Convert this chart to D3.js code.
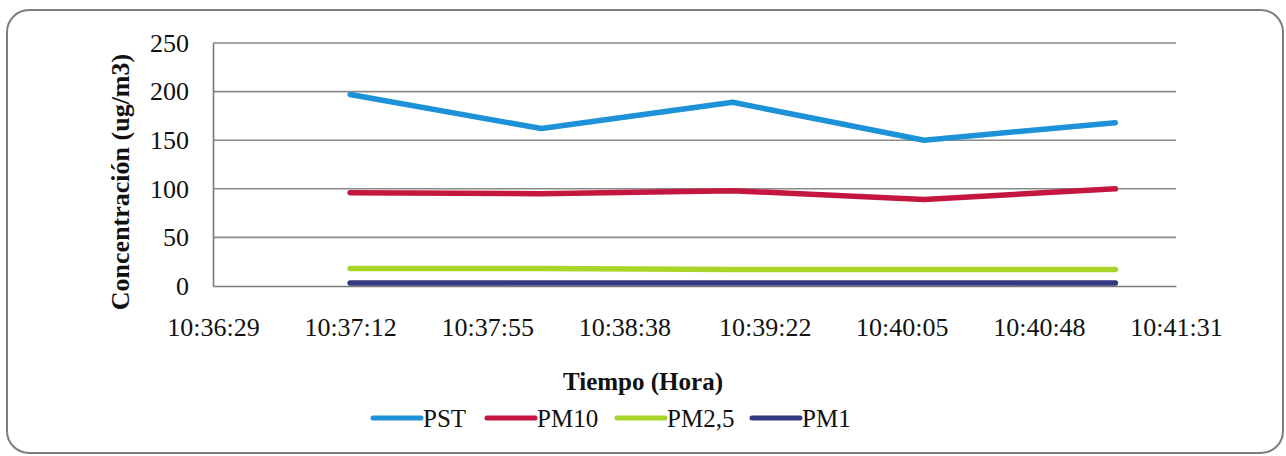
<!DOCTYPE html>
<html>
<head>
<meta charset="utf-8">
<script src="https://cdn.jsdelivr.net/npm/d3@7"></script>
<style>
  html, body { margin: 0; padding: 0; background: #fff; }
  svg { display: block; }
  text { font-family: "Liberation Serif", "Tinos", "Times New Roman", "Noto Serif", "DejaVu Serif", serif; fill: #111; }
</style>
</head>
<body>
<svg id="chart" width="1286" height="456"></svg>
<script>
// Sample times (hh:mm:ss) and concentrations in ug/m3
const times = ["10:37:12", "10:38:12", "10:39:12", "10:40:12", "10:41:12"];
const pst   = [197, 162, 189, 150, 168];
const pm10  = [96, 95, 98, 89, 100];
const pm25  = [18, 18, 17, 17, 17];
const pm1   = [3, 3, 3, 3, 3];

const seriesNames  = ["PST", "PM10", "PM2,5", "PM1"];
const seriesColors = ["#1d92d8", "#c5163f", "#a8d52a", "#33397f"];

const xTickLabels = ["10:36:29", "10:37:12", "10:37:55", "10:38:38",
                     "10:39:22", "10:40:05", "10:40:48", "10:41:31"];
const yTicks = [0, 50, 100, 150, 200, 250];

const serif = '"Liberation Serif", "Tinos", "Times New Roman", "Noto Serif", "DejaVu Serif", serif';

const parse = d3.timeParse("%H:%M:%S");
const fmt = d3.timeFormat("%H:%M:%S");
const xTickDates = xTickLabels.map(parse);
const dates = times.map(parse);

const allSeries = [pst, pm10, pm25, pm1].map((vals, i) => ({
  name: seriesNames[i],
  color: seriesColors[i],
  points: vals.map((v, j) => ({ t: dates[j], v }))
}));

const svg = d3.select("#chart");
const plot = { left: 213, right: 1176, top: 43, bottom: 286 };

// Outer rounded frame
svg.append("rect")
  .attr("x", 7).attr("y", 10)
  .attr("width", 1276).attr("height", 443)
  .attr("rx", 22).attr("ry", 22)
  .attr("fill", "#fff")
  .attr("stroke", "#7d7d7d")
  .attr("stroke-width", 2);

const x = d3.scaleTime()
  .domain([xTickDates[0], xTickDates[xTickDates.length - 1]])
  .range([plot.left, plot.right]);

const y = d3.scaleLinear()
  .domain([0, 250])
  .range([plot.bottom, plot.top]);

// Horizontal gridlines
svg.append("g")
  .selectAll("line")
  .data(yTicks.filter(d => d > 0))
  .join("line")
  .attr("x1", plot.left).attr("x2", plot.right)
  .attr("y1", d => y(d)).attr("y2", d => y(d))
  .attr("stroke", "#8a8a8a")
  .attr("stroke-width", 1.6);

// Y axis
const yAxis = svg.append("g")
  .attr("transform", `translate(${plot.left},0)`)
  .call(d3.axisLeft(y).tickValues(yTicks).tickSize(0).tickPadding(24));
yAxis.attr("font-family", null).attr("font-size", null);
yAxis.select(".domain").attr("stroke", "#7a7a7a").attr("stroke-width", 1.6);
yAxis.selectAll("text")
  .style("font-family", serif)
  .style("font-size", "26px")
  .attr("fill", "#111");

// X axis
const xAxis = svg.append("g")
  .attr("transform", `translate(0,${plot.bottom})`)
  .call(d3.axisBottom(x).tickValues(xTickDates).tickFormat(fmt).tickSize(0).tickPadding(32));
xAxis.attr("font-family", null).attr("font-size", null);
xAxis.select(".domain").attr("stroke", "#7a7a7a").attr("stroke-width", 1.6);
xAxis.selectAll("text")
  .style("font-family", serif)
  .style("font-size", "26px")
  .attr("fill", "#111");

// Series lines
const line = d3.line().x(d => x(d.t)).y(d => y(d.v));
svg.append("g")
  .selectAll("path")
  .data(allSeries.slice().reverse())
  .join("path")
  .attr("d", d => line(d.points))
  .attr("fill", "none")
  .attr("stroke", d => d.color)
  .attr("stroke-width", 5.5)
  .attr("stroke-linecap", "round")
  .attr("stroke-linejoin", "round");

// Axis titles
svg.append("text")
  .attr("transform", "translate(129,182) rotate(-90)")
  .attr("text-anchor", "middle")
  .style("font-family", serif)
  .style("font-size", "26px")
  .style("font-weight", "bold")
  .text("Concentración (ug/m3)");

svg.append("text")
  .attr("x", 643).attr("y", 390)
  .attr("text-anchor", "middle")
  .style("font-family", serif)
  .style("font-size", "25px")
  .style("font-weight", "bold")
  .text("Tiempo (Hora)");

// Legend
const legendX = [373, 487, 617, 752];
const legend = svg.append("g")
  .selectAll("g")
  .data(allSeries)
  .join("g")
  .attr("transform", (d, i) => `translate(${legendX[i]},418)`);
legend.append("line")
  .attr("x1", 0).attr("x2", 48)
  .attr("y1", 0).attr("y2", 0)
  .attr("stroke", d => d.color)
  .attr("stroke-width", 5)
  .attr("stroke-linecap", "round");
legend.append("text")
  .attr("x", 50).attr("y", 9)
  .style("font-family", serif)
  .style("font-size", "25px")
  .text(d => d.name);
</script>
</body>
</html>
